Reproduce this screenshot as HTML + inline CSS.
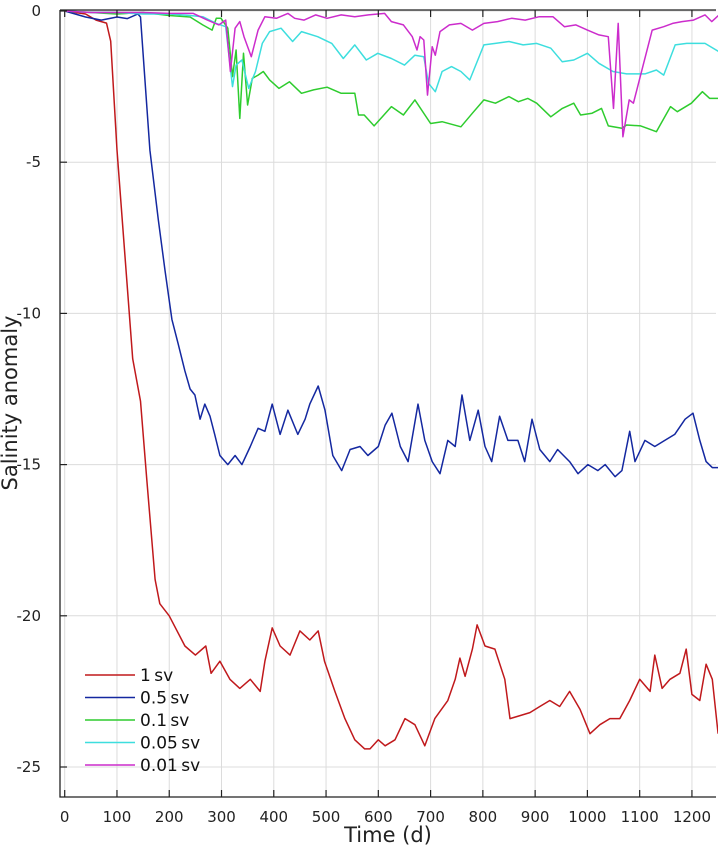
<!DOCTYPE html>
<html><head><meta charset="utf-8"><style>
html,body{margin:0;padding:0;background:#fff;}
svg{display:block;font-family:"DejaVu Sans","Liberation Sans",sans-serif;}
</style></head><body>
<svg id="chart" width="718" height="850" viewBox="0 0 718 850" xmlns="http://www.w3.org/2000/svg">
<g id="grid"></g>
<g id="series"></g>
<g id="axes"></g>
<g id="legend"></g>
<text x="388" y="842" font-size="21" text-anchor="middle" fill="#222">Time (d)</text>
<text x="0" y="0" transform="translate(17,403) rotate(-90)" font-size="21" text-anchor="middle" fill="#222">Salinity anomaly</text>
</svg>
<script>
const xTicks=[0,100,200,300,400,500,600,700,800,900,1000,1100,1200];
const yTicks=[0,-5,-10,-15,-20,-25];
const seriesNames=["1sv","0.5sv","0.1sv","0.05sv","0.01sv"];
const seriesColors=["#c0191c","#1428a0","#2ecc2e","#3ddede","#cc2ccc"];
const red=[[0,0],[40,-0.1],[60,-0.3],[80,-0.4],[88,-1.0],[100,-4.6],[130,-11.5],[145,-12.9],[157,-15.5],[173,-18.8],[182,-19.6],[200,-20],[230,-21],[250,-21.3],[270,-21],[280,-21.9],[297,-21.5],[316,-22.1],[335,-22.4],[355,-22.1],[374,-22.5],[383,-21.5],[397,-20.4],[412,-21.0],[431,-21.3],[450,-20.5],[469,-20.8],[485,-20.5],[497,-21.5],[517,-22.5],[536,-23.4],[555,-24.1],[574,-24.4],[584,-24.4],[600,-24.1],[613,-24.3],[632,-24.1],[651,-23.4],[670,-23.6],[689,-24.3],[708,-23.4],[733,-22.8],[747,-22.1],[756,-21.4],[766,-22.0],[780,-21.1],[789,-20.3],[804,-21.0],[823,-21.1],[842,-22.1],[852,-23.4],[871,-23.3],[890,-23.2],[909,-23.0],[928,-22.8],[947,-23.0],[966,-22.5],[986,-23.1],[1005,-23.9],[1024,-23.6],[1043,-23.4],[1062,-23.4],[1081,-22.8],[1100,-22.1],[1120,-22.5],[1129,-21.3],[1143,-22.4],[1158,-22.1],[1177,-21.9],[1189,-21.1],[1200,-22.6],[1215,-22.8],[1227,-21.6],[1239,-22.1],[1250,-23.9]];
const blue=[[0,0],[20,-0.1],[40,-0.2],[70,-0.3],[100,-0.2],[120,-0.25],[140,-0.1],[145,-0.2],[163,-4.6],[179,-6.9],[192,-8.6],[205,-10.2],[217,-11],[230,-11.9],[240,-12.5],[249,-12.7],[259,-13.5],[268,-13.0],[278,-13.4],[287,-14],[297,-14.7],[312,-15.0],[326,-14.7],[339,-15.0],[355,-14.4],[370,-13.8],[383,-13.9],[397,-13.0],[412,-14.0],[427,-13.2],[446,-14],[460,-13.5],[469,-13.0],[485,-12.4],[498,-13.2],[513,-14.7],[530,-15.2],[546,-14.5],[565,-14.4],[580,-14.7],[600,-14.4],[613,-13.7],[626,-13.3],[642,-14.4],[657,-14.9],[676,-13.0],[689,-14.2],[703,-14.9],[718,-15.3],[733,-14.2],[747,-14.4],[760,-12.7],[775,-14.2],[791,-13.2],[804,-14.4],[817,-14.9],[832,-13.4],[848,-14.2],[867,-14.2],[880,-14.9],[894,-13.5],[909,-14.5],[928,-14.9],[943,-14.5],[966,-14.9],[982,-15.3],[1001,-15.0],[1020,-15.2],[1034,-15.0],[1053,-15.4],[1066,-15.2],[1081,-13.9],[1091,-14.9],[1110,-14.2],[1129,-14.4],[1148,-14.2],[1167,-14.0],[1187,-13.5],[1202,-13.3],[1215,-14.2],[1227,-14.9],[1239,-15.1],[1250,-15.1]];
const green=[[0,0],[50,-0.05],[100,-0.1],[150,-0.05],[200,-0.15],[240,-0.2],[264,-0.46],[282,-0.63],[290,-0.24],[299,-0.24],[312,-0.57],[321,-2.17],[328,-1.29],[335,-3.55],[342,-1.40],[350,-3.11],[359,-2.23],[370,-2.12],[380,-2.0],[392,-2.28],[410,-2.56],[430,-2.34],[453,-2.72],[476,-2.61],[502,-2.52],[529,-2.72],[555,-2.72],[562,-3.44],[573,-3.44],[592,-3.8],[625,-3.16],[648,-3.44],[670,-2.94],[700,-3.72],[722,-3.66],[758,-3.83],[780,-3.38],[802,-2.94],[824,-3.05],[850,-2.83],[868,-3.0],[886,-2.89],[903,-3.05],[930,-3.5],[952,-3.22],[974,-3.05],[987,-3.44],[1009,-3.38],[1027,-3.22],[1040,-3.8],[1066,-3.88],[1075,-3.77],[1102,-3.8],[1132,-3.99],[1159,-3.16],[1172,-3.33],[1199,-3.05],[1220,-2.67],[1234,-2.89],[1252,-2.89]];
const cyan=[[0,0],[50,-0.05],[100,-0.05],[150,-0.1],[200,-0.1],[240,-0.15],[264,-0.19],[290,-0.41],[308,-0.52],[321,-2.5],[328,-1.79],[339,-1.62],[352,-2.56],[365,-2.0],[378,-1.07],[392,-0.68],[414,-0.57],[436,-1.01],[453,-0.68],[484,-0.85],[511,-1.07],[533,-1.57],[555,-1.12],[577,-1.62],[599,-1.4],[625,-1.57],[650,-1.79],[670,-1.46],[687,-1.51],[696,-2.39],[709,-2.67],[722,-2.0],[740,-1.84],[758,-2.0],[775,-2.28],[802,-1.12],[824,-1.07],[850,-1.01],[877,-1.12],[903,-1.07],[930,-1.23],[952,-1.68],[974,-1.62],[1000,-1.4],[1022,-1.73],[1049,-2.0],[1075,-2.08],[1110,-2.08],[1132,-1.95],[1146,-2.12],[1168,-1.12],[1190,-1.07],[1225,-1.07],[1252,-1.35]];
const magenta=[[0,0],[50,-0.05],[100,-0.05],[150,-0.05],[200,-0.08],[246,-0.08],[273,-0.3],[295,-0.46],[308,-0.3],[317,-2.0],[326,-0.57],[335,-0.35],[343,-0.85],[357,-1.51],[370,-0.63],[383,-0.19],[405,-0.24],[427,-0.08],[440,-0.24],[458,-0.3],[480,-0.13],[502,-0.24],[529,-0.13],[555,-0.19],[581,-0.13],[612,-0.08],[625,-0.35],[648,-0.46],[665,-0.85],[674,-1.29],[680,-0.85],[687,-0.96],[694,-2.78],[703,-1.18],[709,-1.46],[718,-0.68],[736,-0.46],[758,-0.41],[780,-0.63],[802,-0.41],[828,-0.35],[855,-0.24],[881,-0.3],[908,-0.19],[934,-0.19],[956,-0.52],[978,-0.46],[1000,-0.63],[1022,-0.79],[1040,-0.85],[1050,-3.22],[1059,-0.41],[1068,-4.16],[1080,-2.94],[1088,-3.05],[1106,-1.84],[1124,-0.63],[1146,-0.52],[1163,-0.41],[1181,-0.35],[1203,-0.3],[1225,-0.13],[1238,-0.35],[1252,-0.13]];
const allSeries=[red,blue,green,cyan,magenta];

const L=60,T=10,R=716,B=797;
function xs(t){return 64.7+t*0.5227;}
function ys(v){return 11-v*30.24;}
const NS="http://www.w3.org/2000/svg";
function mk(tag,attrs,parent){const e=document.createElementNS(NS,tag);for(const k in attrs)e.setAttribute(k,attrs[k]);parent.appendChild(e);return e;}
const grid=document.getElementById('grid'),axes=document.getElementById('axes'),sg=document.getElementById('series'),lg=document.getElementById('legend');
xTicks.forEach(t=>{
  const g=mk('line',{x1:xs(t),x2:xs(t),y1:T,y2:B,stroke:'#dcdcdc','stroke-width':1},grid);
  
  
  const tb=mk('line',{x1:xs(t),x2:xs(t),y1:B,y2:B-7,stroke:'#222','stroke-width':1.2},axes);
  
  
  const tt=mk('line',{x1:xs(t),x2:xs(t),y1:T,y2:T+7,stroke:'#222','stroke-width':1.2},axes);
  
  
  const lb=mk('text',{x:xs(t),y:822,'font-size':15,'text-anchor':'middle',fill:'#222'},axes);
  
  
  lb.textContent=t;
});
yTicks.forEach(v=>{
  const g=mk('line',{x1:L,x2:R,y1:ys(v),y2:ys(v),stroke:'#dcdcdc','stroke-width':1},grid);
  
  
  const tk=mk('line',{x1:L,x2:L+7,y1:ys(v),y2:ys(v),stroke:'#222','stroke-width':1.2},axes);
  
  
  const lb=mk('text',{x:41,y:ys(v)+5,'font-size':15,'text-anchor':'end',fill:'#222'},axes);
  
  
  lb.textContent=v;
});
const fr=mk('path',{d:`M${L},${T}H${R}M${L},${T}V${B}H${R}`,fill:'none',stroke:'#222','stroke-width':1.3},axes);


allSeries.forEach((s,i)=>{
  const p=mk('polyline',{points:s.map(d=>xs(d[0]).toFixed(1)+','+ys(d[1]).toFixed(1)).join(' '),fill:'none',stroke:seriesColors[i],'stroke-width':1.5,'stroke-linejoin':'round'},sg);
  
  
});
seriesNames.forEach((n,i)=>{
  const y=675+i*22.5;
  const l=mk('line',{x1:85,x2:135,y1:y,y2:y,stroke:seriesColors[i],'stroke-width':1.6},lg);
  
  
  const t=mk('text',{x:140,y:y+6,'font-size':17,fill:'#111'},lg);
  
  
  t.textContent=n.replace('sv','')+'\u2009sv';
});
</script>
</body></html>
